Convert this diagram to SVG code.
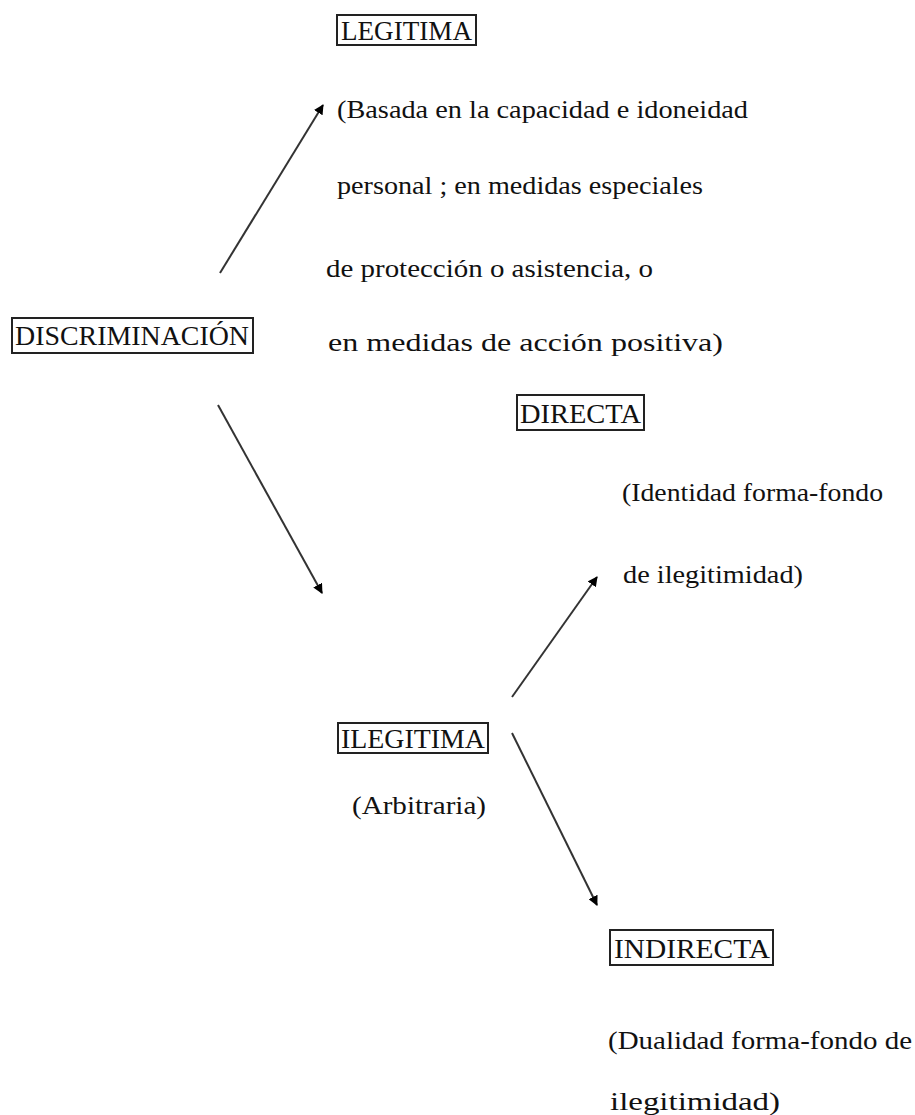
<svg xmlns="http://www.w3.org/2000/svg" width="915" height="1115" viewBox="0 0 915 1115">
<style>
.box{fill:#fff;stroke:#222;stroke-width:2}
.t{font-family:"Liberation Serif","Times New Roman",serif;font-size:25px;fill:#111}
.c{font-family:"Liberation Serif","Times New Roman",serif;font-size:27px;fill:#111}
.ln{stroke:#333;stroke-width:2;fill:none;marker-end:url(#ah)}
</style>
<defs>
<marker id="ah" markerWidth="10" markerHeight="10" refX="9" refY="5" orient="auto" markerUnits="userSpaceOnUse">
<path d="M0,0 L10,5 L0,10 Z" fill="#000"/>
</marker>
</defs>
<rect width="915" height="1115" fill="#fff"/>
<g id="connectors">
<line class="ln" x1="220" y1="273" x2="323" y2="105"/>
<line class="ln" x1="218" y1="405" x2="322" y2="593"/>
<line class="ln" x1="512" y1="697" x2="597" y2="577"/>
<line class="ln" x1="512" y1="733" x2="597" y2="905"/>
</g>
<g id="discriminacion">
<rect class="box" x="12" y="318" width="241" height="35"/>
<text class="c" x="15" y="345" textLength="234" lengthAdjust="spacingAndGlyphs">DISCRIMINACIÓN</text>
</g>
<g id="legitima">
<rect class="box" x="337" y="15" width="139" height="30"/>
<text class="c" x="341" y="40" textLength="131" lengthAdjust="spacingAndGlyphs">LEGITIMA</text>
<text class="t" x="337" y="118" textLength="411" lengthAdjust="spacingAndGlyphs">(Basada en la capacidad e idoneidad</text>
<text class="t" x="337" y="194" textLength="366" lengthAdjust="spacingAndGlyphs">personal ; en medidas especiales</text>
<text class="t" x="326" y="277" textLength="327" lengthAdjust="spacingAndGlyphs">de protección o asistencia, o</text>
<text class="t" x="328" y="351" textLength="395" lengthAdjust="spacingAndGlyphs">en medidas  de acción positiva)</text>
</g>
<g id="directa">
<rect class="box" x="517" y="395" width="127" height="35"/>
<text class="c" x="520" y="423" textLength="121" lengthAdjust="spacingAndGlyphs">DIRECTA</text>
<text class="t" x="622" y="501" textLength="261" lengthAdjust="spacingAndGlyphs">(Identidad  forma-fondo</text>
<text class="t" x="623" y="583" textLength="180" lengthAdjust="spacingAndGlyphs">de ilegitimidad)</text>
</g>
<g id="ilegitima">
<rect class="box" x="338" y="723" width="150" height="30"/>
<text class="c" x="341" y="748" textLength="144" lengthAdjust="spacingAndGlyphs">ILEGITIMA</text>
<text class="t" x="352" y="814" textLength="134" lengthAdjust="spacingAndGlyphs">(Arbitraria)</text>
</g>
<g id="indirecta">
<rect class="box" x="610" y="930" width="163" height="35"/>
<text class="c" x="614" y="958" textLength="156" lengthAdjust="spacingAndGlyphs">INDIRECTA</text>
<text class="t" x="608" y="1049" textLength="304" lengthAdjust="spacingAndGlyphs">(Dualidad  forma-fondo  de</text>
<text class="t" x="610" y="1110" textLength="170" lengthAdjust="spacingAndGlyphs">ilegitimidad)</text>
</g>
</svg>
